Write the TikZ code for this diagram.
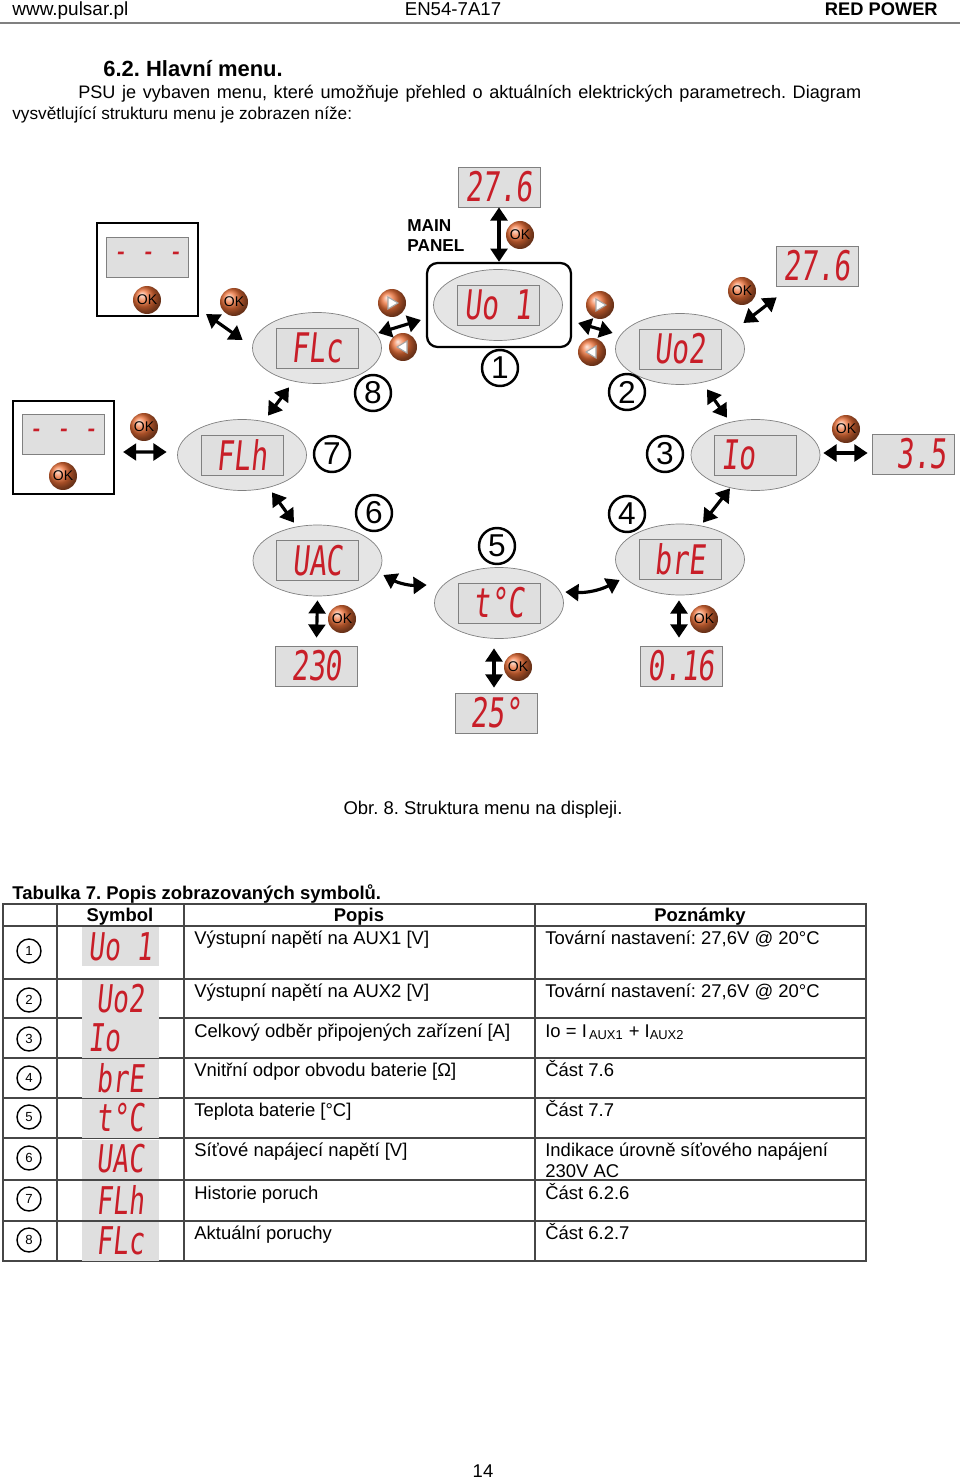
\documentclass[tikz,border=0pt]{standalone}
\usepackage{graphicx}
\usepackage{fontspec}
\setmainfont{Liberation Sans}
\newfontfamily\segfont[FakeSlant=0.15]{DejaVu Sans Mono}
\usetikzlibrary{shapes.geometric,arrows.meta,positioning}
\definecolor{segred}{RGB}{200,30,40}
\definecolor{btnred}{RGB}{238,112,55}
\definecolor{rulegray}{RGB}{70,70,70}
\frenchspacing
\newcommand{\seg}[2][16]{\scalebox{1}[1.45]{\fontsize{#1}{#1}\segfont #2}}
\tikzset{
  txt/.style={inner sep=0pt, anchor=base west},
  disp/.style={draw=gray, fill=gray!25, minimum width=1.64cm, minimum height=0.8cm, inner sep=0pt, text=segred},
  menu/.style={ellipse, draw=gray, fill=gray!20, minimum width=2.58cm, minimum height=1.42cm, inner sep=0pt},
  okbtn/.style={circle, ball color=btnred, minimum size=0.56cm, inner sep=0pt, font=\fontsize{8}{8}\selectfont, text=black},
  arbtn/.style={circle, ball color=btnred, minimum size=0.56cm, inner sep=0pt},
  num/.style={circle, draw, line width=1.4pt, minimum size=0.72cm, inner sep=0pt, font=\fontsize{18}{18}\selectfont},
  dbl/.style={line width=1.8pt, {Triangle[length=7.5pt,width=9.5pt]}-{Triangle[length=7.5pt,width=9.5pt]}},
  frame/.style={draw, line width=1.2pt, minimum width=2.02cm, minimum height=1.86cm, inner sep=0pt},
  tnum/.style={circle, draw, line width=0.8pt, minimum size=0.48cm, inner sep=0pt, font=\fontsize{7.5}{7.5}\selectfont},
  tsym/.style={fill=gray!25, minimum width=1.54cm, minimum height=0.78cm, inner sep=0pt, text=segred},
  body/.style={txt, font=\fontsize{10.5}{12}\selectfont}
}
\begin{document}
\begin{tikzpicture}[x=0.02cm,y=-0.02cm]
\useasboundingbox[fill=white] (0,0) rectangle (960,1479);

\node[txt, font=\fontsize{10.8}{12}\selectfont] (web) at (12,16) {www.pulsar.pl};
\node[txt, anchor=base, font=\fontsize{10.6}{12}\selectfont] (model) at (453,16) {EN54-7A17};
\node[txt, anchor=base east, font=\bfseries\fontsize{10.4}{12}\selectfont] (brand) at (938,16) {RED POWER};
\draw[gray, line width=1.1pt] (0,23) -- (960,23);

\node[txt, font=\bfseries\fontsize{12.5}{14}\selectfont] (sec) at (103,77) {6.2. Hlavní menu.};
\node[txt, font=\fontsize{10.3}{12}\selectfont] (intro1) at (78,99) {\makebox[15.66cm][s]{PSU je vybaven menu, které umožňuje přehled o aktuálních elektrických parametrech. Diagram}};
\node[txt, font=\fontsize{9.8}{12}\selectfont] (intro2) at (12,120) {vysvětlující strukturu menu je zobrazen níže:};

% menu diagram
\node[draw, line width=1.3pt, rounded corners=6pt, minimum width=2.88cm, minimum height=1.68cm] (panel) at (499,305) {};
\foreach \nm/\px/\py/\txt in {uo1/498/305/Uo 1, flc/317/348/FLc, uo2/680/349/Uo2, flh/242/455/FLh,
    io/755.5/455/{Io\ \ }, uac/317.5/560.5/UAC, tc/499/603/t°C, bre/680/559.5/brE}
  {\node[menu] (\nm) at (\px,\py) {};
   \node[disp] (\nm d) at (\nm) {\seg{\txt}};}
\foreach \nm/\px/\py/\txt in {top27/499/187/27.6, tr27/817/266/27.6, r35/913/454/{\ 3.5},
    r230/316.5/666/230, r25/496/713/25°, r016/681/666/0.16}
  \node[disp] (\nm) at (\px,\py) {\seg{\txt}};

\node[frame] (box1) at (147.5,269.5) {};
\node[disp] (box1d) at (147.5,257) {\seg[13]{- - -}};
\node[frame] (box2) at (63.5,447.5) {};
\node[disp] (box2d) at (63,434) {\seg[13]{- - -}};

\node[align=left, anchor=north west, inner sep=0pt, font=\bfseries\fontsize{9.8}{11.3}\selectfont] (mainlbl) at (407,219) {MAIN\\PANEL};

\foreach \nm/\px/\py in {ok1/520/235, ok2/147/300, ok3/234/302, ok4/742/291, ok5/144/427,
    ok6/63/476, ok7/846/429, ok8/342/619, ok9/518/667, ok10/704/619}
  \node[okbtn] (\nm) at (\px,\py) {OK};
\node[arbtn] (rt1) at (392,303) {};
\node[arbtn] (lt1) at (403,347) {};
\node[arbtn] (rt2) at (600,305) {};
\node[arbtn] (lt2) at (592,352) {};
\foreach \b/\d in {rt1/1, lt1/-1, rt2/1, lt2/-1}
  \draw[fill=white, draw=gray!70, line width=0.6pt] ([shift={({-4*\d},-6)}]\b.center) -- ([shift={({6*\d},0)}]\b.center) -- ([shift={({-4*\d},6)}]\b.center) -- cycle;

\foreach \k/\px/\py in {1/500/368, 2/627/392, 3/665/454, 4/627/514, 5/497/546, 6/374/513, 7/332/454, 8/373/393}
  \node[num] (n\k) at (\px,\py) {\k};

\draw[dbl] (top27.south) -- (panel.north);
\draw[dbl] ([shift={(7,-3)}]box1.south east) -- ([shift={(-9.5,-8)}]flc.west);
\draw[dbl] ([shift={(-3.5,-15)}]flc.east) -- ([shift={(-5,15)}]panel.west);
\draw[dbl] ([shift={(6,18)}]panel.east) -- ([shift={(-2.5,-16)}]uo2.west);
\draw[dbl] ([shift={(-1.5,-26)}]uo2.east) -- ([shift={(1,11)}]tr27.south west);
\draw[dbl] ([shift={(-28,3.5)}]flc.south) -- ([shift={(26,-3.5)}]flh.north);
\draw[dbl] ([shift={(27,4.5)}]uo2.south) -- ([shift={(-28.5,-1.5)}]io.north);
\draw[dbl] ([shift={(8,4.5)}]box2.east) -- ([shift={(-10.5,-3)}]flh.west);
\draw[dbl] ([shift={(3,-2)}]io.east) -- ([shift={(-4,-1)}]r35.west);
\draw[dbl] ([shift={(30,1.5)}]flh.south) -- ([shift={(-23.5,-2)}]uac.north);
\draw[dbl] ([shift={(-25.5,-2.5)}]io.south) -- ([shift={(23,-1)}]bre.north);
\draw[dbl] ([shift={(1,14.5)}]uac.east) to[bend right=15] ([shift={(-7.5,-18)}]tc.west);
\draw[dbl] ([shift={(1.5,-11)}]tc.east) to[bend right=15] ([shift={(4.5,20.5)}]bre.west);
\draw[dbl] ([shift={(0,4)}]uac.south) -- ([shift={(0,-8)}]r230.north);
\draw[dbl] ([shift={(-5,9.5)}]tc.south) -- ([shift={(-2,-5)}]r25.north);
\draw[dbl] ([shift={(-1,5)}]bre.south) -- ([shift={(-2,-8)}]r016.north);

\node[body, anchor=base] (caption) at (483,814) {Obr. 8. Struktura menu na displeji.};

% table
\node[body, font=\bfseries\fontsize{10.5}{12}\selectfont] (tabtitle) at (12,899) {Tabulka 7. Popis zobrazovaných symbolů.};
\draw[rulegray, line width=0.9pt] (3,904) rectangle (866,1261);
\foreach \y in {926,979,1018,1058,1098,1138,1180,1221}
  \draw[rulegray, line width=0.9pt] (3,\y) -- (866,\y);
\foreach \x in {57,184,535}
  \draw[rulegray, line width=0.9pt] (\x,904) -- (\x,1261);
\node[body, anchor=base, font=\bfseries\fontsize{10.5}{12}\selectfont] (hsym) at (120,921) {Symbol};
\node[body, anchor=base, font=\bfseries\fontsize{10.5}{12}\selectfont] (hpop) at (359,921) {Popis};
\node[body, anchor=base, font=\bfseries\fontsize{10.5}{12}\selectfont] (hpoz) at (700,921) {Poznámky};
\foreach \k/\cy/\sy/\by/\sym/\pop/\poz in {
    1/951/946.5/944/Uo 1/{Výstupní napětí na AUX1 [V]}/{Tovární nastavení: 27,6V @ 20°C},
    2/1000/999/997/Uo2/{Výstupní napětí na AUX2 [V]}/{Tovární nastavení: 27,6V @ 20°C},
    3/1039/1038/1037/{Io\ \ }/{Celkový odběr připojených zařízení [A]}/{Io = I\textsubscript{\,AUX1} + I\textsubscript{AUX2}},
    4/1078/1078/1076/brE/{Vnitřní odpor obvodu baterie [Ω]}/{Část 7.6},
    5/1117/1118/1116/t°C/{Teplota baterie [°C]}/{Část 7.7},
    6/1158/1159/1156/UAC/{Síťové napájecí napětí [V]}/{\vtop{\hbox{Indikace úrovně síťového napájení}\hbox{230V AC}}},
    7/1199/1200/1199/FLh/{Historie poruch}/{Část 6.2.6},
    8/1240/1241/1239/FLc/{Aktuální poruchy}/{Část 6.2.7}}
  {\node[tnum] (t\k) at (29,\cy) {\k};
   \node[tsym] (s\k) at (120.5,\sy) {\seg[15]{\sym}};
   \node[body] (p\k) at (194,\by) {\pop};
   \node[body] (q\k) at (545,\by) {\poz};}

\node[body, anchor=base] (pageno) at (483,1477) {14};
\end{tikzpicture}
\end{document}
